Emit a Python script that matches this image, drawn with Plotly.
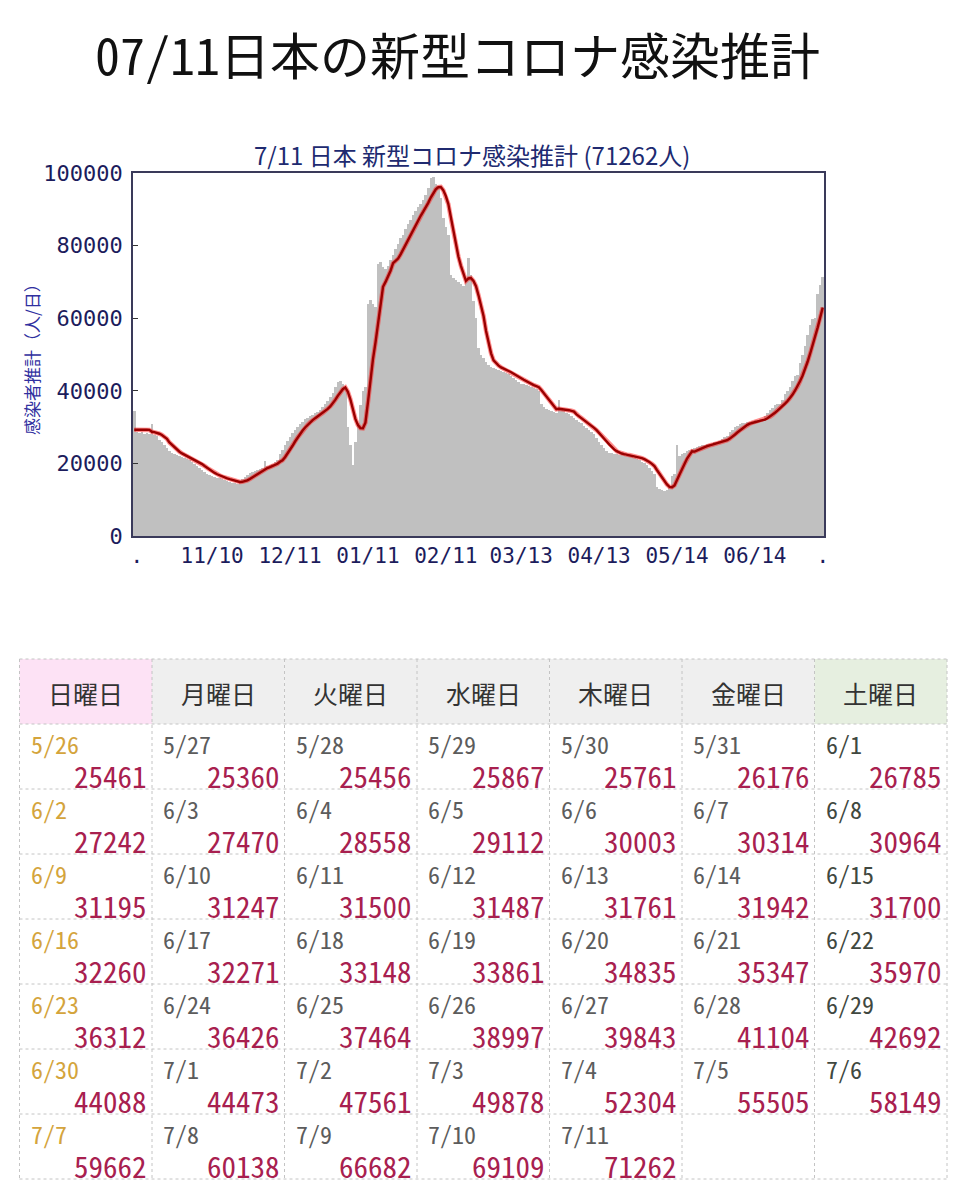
import pandas as pd
import plotly.graph_objects as go

# ---------------- data ----------------
start_date = "2021-10-10"

# level of the days just before the visible range (read from the flat start of the average line)
prior_days = [28400, 28400, 28400, 28400, 28400, 28400]

# daily estimated infections (10/10 .. 5/25)
est_early = [
    34400, 28600, 28300, 28700, 28200, 28400, 28000, 30800, 27800, 27500,
    26500, 25800, 25000, 24200, 23500, 23000, 22600, 22200, 22000, 21800,
    21600, 21300, 20900, 20300, 19800, 19300, 18800, 18200, 17700, 17200,
    16900, 16600, 16300, 16100, 15900, 15600, 15400, 15200, 15000, 14700,
    14500, 14400, 15000, 15600, 16200, 16800, 17300, 17700, 18000, 18300,
    18500, 18700, 20700, 19200, 19500, 19900, 20300, 21000, 22500, 23700,
    25000, 26200, 27300, 28300, 29200, 30000, 30800, 31500, 32100, 32600,
    33000, 33400, 33800, 34200, 34800, 35500, 36300, 37200, 38200, 39500,
    41000, 42500, 42700, 42000, 40500, 30000, 25000, 19600, 26000, 31000,
    36000, 40000, 41000, 64000, 65000, 64000, 63000, 75000, 75500, 74000,
    73500, 74500, 76000, 77500, 79000, 80500, 82000, 83000, 84500, 86000,
    87000, 88500, 89500, 90500, 91500, 92500, 94000, 96000, 98600, 99000,
    97000, 95500, 93000, 87500, 85000, 83000, 72000, 71000, 70500, 70000,
    69500, 69000, 70000, 76600, 72000, 64700, 60000, 51800, 50000, 49000,
    48000, 47000, 46500, 46300, 46000, 45800, 45500, 45200, 44800, 44500,
    44000, 43500, 43000, 42500, 42000, 41800, 41500, 41300, 41000, 40800,
    40500, 40000, 36500, 35500, 35000, 34800, 34500, 34200, 34000, 37400,
    35000, 34500, 34000, 33500, 33000, 32500, 32000, 31500, 31000, 30400,
    29800, 29200, 28600, 28000, 27000, 26000, 25000, 24200, 23500, 23000,
    22800, 22600, 22500, 22400, 22300, 22200, 22100, 22000, 21800, 21600,
    21300, 21000, 20500, 20000, 19500, 18800, 18000, 17000, 13500, 13000,
    12800, 12500, 12600, 13200, 16500, 17000, 25000, 22000, 22500, 23000,
    23300, 23600, 24000, 24300, 24600, 24800, 25000, 25200,
]

# values in the calendar table (5/26 .. 7/11)
table_values = [
    25461, 25360, 25456, 25867, 25761, 26176, 26785,
    27242, 27470, 28558, 29112, 30003, 30314, 30964,
    31195, 31247, 31500, 31487, 31761, 31942, 31700,
    32260, 32271, 33148, 33861, 34835, 35347, 35970,
    36312, 36426, 37464, 38997, 39843, 41104, 42692,
    44088, 44473, 47561, 49878, 52304, 55505, 58149,
    59662, 60138, 66682, 69109, 71262,
]

xtick_dates = ["2021-11-10", "2021-12-11", "2022-01-11", "2022-02-11",
               "2022-03-13", "2022-04-13", "2022-05-14", "2022-06-14"]
xtick_labels = ["11/10", "12/11", "01/11", "02/11", "03/13", "04/13", "05/14", "06/14"]
ytick_values = [0, 20000, 40000, 60000, 80000, 100000]

weekdays = ["日曜日", "月曜日", "火曜日", "水曜日", "木曜日", "金曜日", "土曜日"]
header_colors = ["#fde2f5", "#efefef", "#efefef", "#efefef", "#efefef", "#efefef", "#e6efe0"]
date_colors = ["#d4a43c", "#5c5c5c", "#5c5c5c", "#5c5c5c", "#5c5c5c", "#5c5c5c", "#404840"]

main_title = "07/11日本の新型コロナ感染推計"
chart_title = "7/11 日本 新型コロナ感染推計 (71262人)"
y_title = "感染者推計（人/日）"

# ---------------- derived ----------------
values = est_early + table_values
dates = pd.date_range(start_date, periods=len(values), freq="D")
avg7 = (pd.Series(prior_days + values).rolling(7).mean()
        .iloc[len(prior_days):].to_numpy())

W, H = 960, 1196
def px(x):
    return x / W
def py(y):
    return 1 - y / H

NAVY = "#1c1c5c"
MONO = "Noto Sans Mono CJK JP, DejaVu Sans Mono, monospace"
JP = "Noto Sans CJK JP, sans-serif"

fig = go.Figure()
fig.add_trace(go.Bar(x=dates, y=values, marker_color="#c0c0c0",
                     marker_line_width=0, showlegend=False))
fig.add_trace(go.Scatter(x=dates, y=avg7, mode="lines",
                         line=dict(color="rgba(255,30,30,0.5)", width=4.5),
                         showlegend=False))
fig.add_trace(go.Scatter(x=dates, y=avg7, mode="lines",
                         line=dict(color="#990000", width=2.4),
                         showlegend=False))

half = pd.Timedelta(hours=12)
fig.update_xaxes(
    type="date",
    range=[dates[0] - half, dates[-1] + half],
    tickvals=[dates[1]] + list(pd.to_datetime(xtick_dates)) + [dates[-1]],
    ticktext=["."] + xtick_labels + ["."],
    ticks="", showgrid=False, zeroline=False, automargin=False,
    showline=True, mirror=True, linecolor="#3a3a5a", linewidth=1.5,
    tickfont=dict(family="DejaVu Sans Mono", size=21, color=NAVY),
    domain=[px(133), px(824)],
)
fig.update_yaxes(
    range=[0, 100000],
    tickvals=ytick_values, ticktext=[str(v) for v in ytick_values],
    ticks="inside", ticklen=5, tickcolor="#333333", ticklabelstandoff=4,
    showgrid=False, zeroline=False, automargin=False,
    showline=True, mirror=True, linecolor="#3a3a5a", linewidth=1.5,
    tickfont=dict(family="DejaVu Sans Mono", size=22, color=NAVY),
    domain=[py(536), py(173)],
)

annotations = [
    dict(text=main_title, x=px(457), y=py(53), xref="paper", yref="paper",
         showarrow=False, xanchor="center", yanchor="middle",
         font=dict(family=MONO, size=50, color="#111111")),
    dict(text=chart_title, x=px(472), y=py(155), xref="paper", yref="paper",
         showarrow=False, xanchor="center", yanchor="middle",
         font=dict(family=JP, size=24, color="#202a70")),
    dict(text=y_title, x=px(32), y=py(355), xref="paper", yref="paper",
         showarrow=False, xanchor="center", yanchor="middle", textangle=-90,
         font=dict(family=JP, size=17, color="#3030a0")),
]

shapes = []
tbl_left, col_w = 19.5, 132.5
head_top, head_h, row_h = 659, 65, 65
n_rows = (len(table_values) + 6) // 7
tbl_right = tbl_left + 7 * col_w
tbl_bottom = head_top + head_h + n_rows * row_h

for c, name in enumerate(weekdays):
    x0 = tbl_left + c * col_w
    shapes.append(dict(type="rect", xref="paper", yref="paper",
                       x0=px(x0), x1=px(x0 + col_w), y0=py(head_top + head_h), y1=py(head_top),
                       fillcolor=header_colors[c], line=dict(width=0), layer="below"))
    annotations.append(dict(text=name, x=px(x0 + col_w / 2), y=py(head_top + head_h / 2 + 1),
                            xref="paper", yref="paper", showarrow=False,
                            xanchor="center", yanchor="middle",
                            font=dict(family=JP, size=25, color="#333333")))

# grid lines
for r in range(n_rows + 2):
    yy = head_top if r == 0 else head_top + head_h + (r - 1) * row_h
    shapes.append(dict(type="line", xref="paper", yref="paper",
                       x0=px(tbl_left), x1=px(tbl_right), y0=py(yy), y1=py(yy),
                       line=dict(color="#c4c4c4", width=1, dash="dot")))
for c in range(8):
    xx = tbl_left + c * col_w
    shapes.append(dict(type="line", xref="paper", yref="paper",
                       x0=px(xx), x1=px(xx), y0=py(head_top), y1=py(tbl_bottom),
                       line=dict(color="#c4c4c4", width=1, dash="dot")))

table_dates = dates[len(est_early):]
for k, (d, v) in enumerate(zip(table_dates, table_values)):
    r, c = divmod(k, 7)
    x0 = tbl_left + c * col_w
    y0 = head_top + head_h + r * row_h
    annotations.append(dict(text=f"{d.month}/{d.day}", x=px(x0 + 9), y=py(y0 + 19),
                            xref="paper", yref="paper", showarrow=False,
                            xanchor="left", yanchor="middle",
                            font=dict(family=MONO, size=24, color=date_colors[c])))
    annotations.append(dict(text=str(v), x=px(x0 + col_w - 3), y=py(y0 + 51),
                            xref="paper", yref="paper", showarrow=False,
                            xanchor="right", yanchor="middle",
                            font=dict(family=MONO, size=29, color="#a8204f")))

fig.update_layout(
    width=W, height=H, autosize=False,
    margin=dict(l=0, r=0, t=0, b=0, pad=0, autoexpand=False),
    paper_bgcolor="white", plot_bgcolor="white",
    bargap=0, showlegend=False,
    annotations=annotations, shapes=shapes,
)

fig.write_html("out.html", config={"displayModeBar": False},
               post_script="document.body.style.margin='0';")
